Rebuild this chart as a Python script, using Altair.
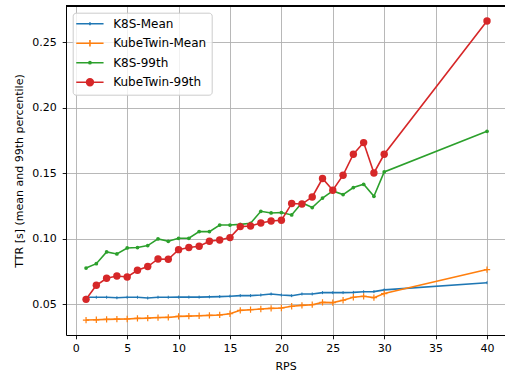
import altair as alt
import pandas as pd

rps = list(range(1, 31)) + [40]
series_names = ["K8S-Mean", "KubeTwin-Mean", "K8S-99th", "KubeTwin-99th"]
colors = ["#1f77b4", "#ff7f0e", "#2ca02c", "#d62728"]

k8s_mean = [0.0554, 0.0554, 0.0554, 0.0550, 0.0554, 0.0554, 0.0548, 0.0554, 0.0554, 0.0555,
            0.0555, 0.0555, 0.0557, 0.0559, 0.0562, 0.0566, 0.0566, 0.0571, 0.0579, 0.0571,
            0.0566, 0.0579, 0.0579, 0.0589, 0.0589, 0.0589, 0.0591, 0.0596, 0.0597, 0.0610,
            0.0665]
kubetwin_mean = [0.0380, 0.0382, 0.0385, 0.0387, 0.0388, 0.0393, 0.0395, 0.0399, 0.0400, 0.0408,
                 0.0410, 0.0413, 0.0416, 0.0419, 0.0428, 0.0454, 0.0459, 0.0464, 0.0469, 0.0472,
                 0.0485, 0.0492, 0.0497, 0.0515, 0.0513, 0.0531, 0.0554, 0.0561, 0.0551, 0.0582,
                 0.0765]
k8s_99th = [0.0777, 0.0810, 0.0900, 0.0884, 0.0930, 0.0933, 0.0948, 0.0999, 0.0981, 0.1004,
            0.1004, 0.1055, 0.1055, 0.1105, 0.1105, 0.1110, 0.1118, 0.1210, 0.1197, 0.1200,
            0.1182, 0.1275, 0.1238, 0.1311, 0.1365, 0.1337, 0.1391, 0.1416, 0.1324, 0.1510,
            0.1820]
kubetwin_99th = [0.0538, 0.0645, 0.0699, 0.0716, 0.0709, 0.0760, 0.0788, 0.0846, 0.0844, 0.0917,
                 0.0933, 0.0943, 0.0981, 0.0991, 0.1009, 0.1093, 0.1098, 0.1121, 0.1136, 0.1141,
                 0.1269, 0.1265, 0.1319, 0.1460, 0.1370, 0.1485, 0.1645, 0.1734, 0.1502, 0.1645,
                 0.2662]

x_ticks = [0, 5, 10, 15, 20, 25, 30, 35, 40]
y_ticks = [0.05, 0.10, 0.15, 0.20, 0.25]

values = [k8s_mean, kubetwin_mean, k8s_99th, kubetwin_99th]
rows = []
for name, vals in zip(series_names, values):
    for x, v in zip(rps, vals):
        rows.append({"series": name, "rps": x, "ttr": v})
df = pd.DataFrame(rows)

FONT = "DejaVu Sans"
W, H = 439, 329

x_enc = alt.X("rps:Q", title="RPS",
              scale=alt.Scale(domain=[-0.95, 41.75], nice=False, zero=False),
              axis=alt.Axis(values=x_ticks, format="d"))
y_enc = alt.Y("ttr:Q", title="TTR [s] (mean and 99th percentile)",
              scale=alt.Scale(domain=[0.02659, 0.27761], nice=False, zero=False),
              axis=alt.Axis(values=y_ticks, format=".2f"))

color_scale = alt.Scale(domain=series_names, range=colors)

# legend symbols: line with marker drawn as strokes (unit = 5px at size 100)
def rings(cx, radii):
    out = ""
    for r in radii:
        out += "M%.3f,0a%.3f,%.3f 0 1,0 %.3f,0a%.3f,%.3f 0 1,0 %.3f,0" % (
            cx + r, r, r, -2 * r, r, r, 2 * r)
    return out

legend_paths = [
    "M-1.49,0H3.97M1.25,-0.3V0.3",
    "M-1.49,0H3.97M0.6,0H1.9M1.25,-0.65V0.65",
    "M-1.49,0H3.97" + rings(1.25, [0.22]),
    "M-1.49,0H3.97" + rings(1.25, [0.68, 0.4, 0.13]),
]
shape_scale = alt.Scale(domain=series_names, range=legend_paths)

leg = alt.Legend(
    title=None, orient="none", legendX=6.7, legendY=6.7,
    padding=5, rowPadding=6.5, symbolSize=100, symbolStrokeWidth=1.6,
    labelOffset=23.5, labelFont=FONT, labelFontSize=12, labelColor="black",
    fillColor="rgba(255,255,255,0.8)", strokeColor="#cccccc", cornerRadius=3,
    symbolOpacity=1,
)

layers = []
# legend-only layer (no marks drawn)
layers.append(
    alt.Chart(df).transform_filter("false").mark_point(filled=False).encode(
        x=x_enc, y=y_enc,
        color=alt.Color("series:N", scale=color_scale, legend=leg),
        shape=alt.Shape("series:N", scale=shape_scale, legend=leg),
    )
)

marker_specs = {
    "K8S-Mean": dict(kind="point", shape="M0,-1V1", size=9, strokeWidth=1),
    "KubeTwin-Mean": dict(kind="point", shape="M-1,0H1M0,-1V1", size=40, strokeWidth=1.2),
    "K8S-99th": dict(kind="circle", size=14),
    "KubeTwin-99th": dict(kind="circle", size=55),
}

for name, col in zip(series_names, colors):
    base = alt.Chart(df).transform_filter(alt.datum.series == name)
    line = base.mark_line(color=col, strokeWidth=1.6).encode(x=x_enc, y=y_enc)
    spec = marker_specs[name]
    if spec["kind"] == "circle":
        pts = base.mark_circle(color=col, size=spec["size"], opacity=1).encode(x=x_enc, y=y_enc)
    else:
        pts = base.mark_point(color=col, shape=spec["shape"], size=spec["size"],
                              filled=False, strokeWidth=spec["strokeWidth"], opacity=1).encode(x=x_enc, y=y_enc)
    layers.append(line)
    layers.append(pts)

top_border = alt.Chart(df).mark_rule(color="black", strokeWidth=1).encode(
    x=alt.value(0), x2=alt.value(W), y=alt.value(0)
)
layers.append(top_border)

chart = alt.layer(*layers).properties(
    width=W, height=H,
    autosize=alt.AutoSizeParams(type="none"),
    padding={"left": 66, "top": 6, "right": 0, "bottom": 40},
).configure_view(
    stroke=None
).configure_axis(
    labelFont=FONT, labelFontSize=11, labelColor="black",
    titleFont=FONT, titleFontSize=11, titleFontWeight="normal", titleColor="black",
    domainColor="black", domainWidth=1,
    tickColor="black", tickSize=3.8, tickWidth=0.9,
    grid=True, gridColor="#b0b0b0", gridWidth=0.9,
).configure_axisX(
    labelPadding=3.5, titlePadding=7.5,
).configure_axisY(
    labelPadding=6, titlePadding=7,
)

chart.save("out.html", embed_options={"renderer": "svg", "actions": False})
